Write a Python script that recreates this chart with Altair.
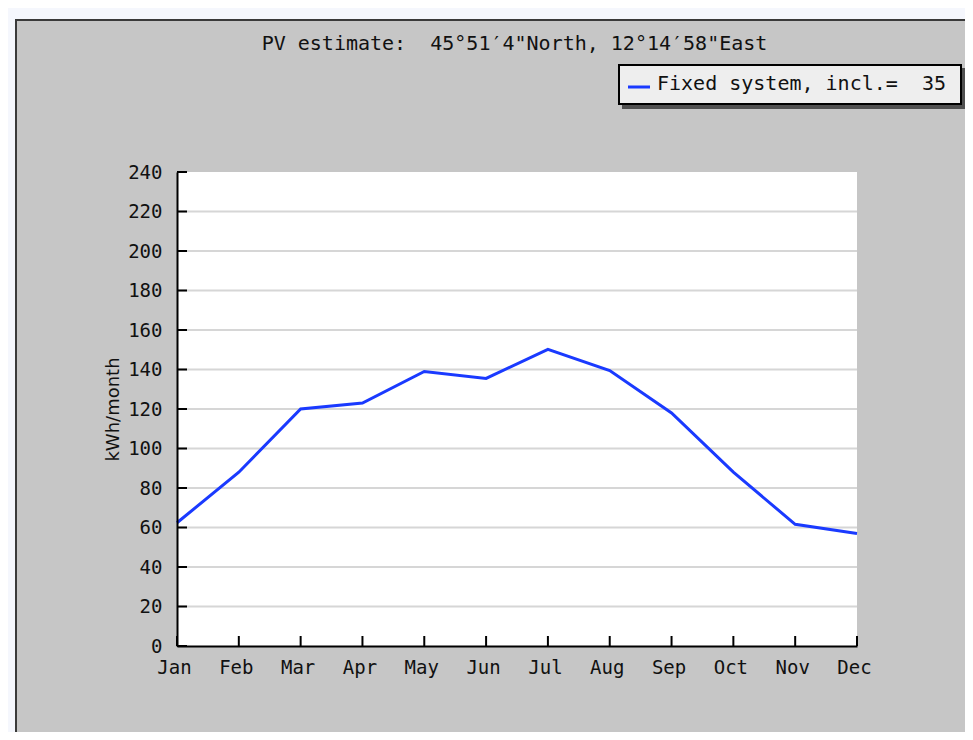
import altair as alt
import pandas as pd

# ---- data ----
months = ["Jan", "Feb", "Mar", "Apr", "May", "Jun", "Jul", "Aug", "Sep", "Oct", "Nov", "Dec"]
kwh = [62.4, 88.0, 120.0, 123.0, 139.0, 135.5, 150.2, 139.5, 118.0, 88.0, 61.6, 57.0]
y_ticks = [0, 20, 40, 60, 80, 100, 120, 140, 160, 180, 200, 220, 240]
grid_values = [20, 40, 60, 80, 100, 120, 140, 160, 180, 200, 220]
title_text = ["PV estimate:\u00a0\u00a045°51′4\"North, 12°14′58\"East"]
legend_label = ["Fixed system, incl.=\u00a0\u00a035"]
y_title = "kWh/month"

# ---- styling ----
W, H = 680, 474
MONO = "DejaVu Sans Mono"
BLUE = "#1a3aff"
TXT = "#111111"

df = pd.DataFrame({"month": months, "kwh": kwh})
one = pd.DataFrame({"k": [0]})

x_scale = alt.Scale(type="point", domain=months, padding=0)
y_scale = alt.Scale(domain=[0, 240], nice=False, zero=True)

x_axis = alt.Axis(title=None, grid=False, ticks=False, domain=True, domainColor="black",
                  domainWidth=2, labelFont=MONO, labelFontSize=19, labelColor=TXT,
                  labelPadding=12, labelAngle=0, labelOffset=-3, zindex=1)
y_axis = alt.Axis(title=y_title, values=y_ticks, grid=False, ticks=False, domain=True,
                  domainColor="black", domainWidth=2, labelFont=MONO, labelFontSize=19,
                  labelColor=TXT, labelPadding=15, titleFont="DejaVu Sans", titleFontSize=18,
                  titleFontWeight="normal", titleColor=TXT, titleX=-64, titleY=237,
                  titleAngle=270, titleBaseline="middle", titleAlign="center", zindex=1)

panel = alt.Chart(one).mark_rect(fill="#c6c6c6", stroke="#3a3a3a", strokeWidth=2).encode(
    x=alt.value(-161), x2=alt.value(830), y=alt.value(-152), y2=alt.value(580))

shadow = alt.Chart(one).mark_rect(fill="#505050").encode(
    x=alt.value(445), x2=alt.value(789), y=alt.value(-104), y2=alt.value(-63))
box = alt.Chart(one).mark_rect(fill="#eeeeee", stroke="black", strokeWidth=2).encode(
    x=alt.value(442), x2=alt.value(784), y=alt.value(-107), y2=alt.value(-68))
leg_line = alt.Chart(one).mark_rule(color=BLUE, strokeWidth=3).encode(
    x=alt.value(451), x2=alt.value(473), y=alt.value(-85))
leg_text = alt.Chart(pd.DataFrame({"t": legend_label})).mark_text(
    align="left", baseline="middle", font=MONO, fontSize=20, color=TXT).encode(
    x=alt.value(480), y=alt.value(-88), text="t:N")

title = alt.Chart(pd.DataFrame({"t": title_text})).mark_text(
    align="center", baseline="middle", font=MONO, fontSize=20, color=TXT).encode(
    x=alt.value(337.5), y=alt.value(-128), text="t:N")

plot_bg = alt.Chart(one).mark_rect(fill="white").encode(
    x=alt.value(0), x2=alt.value(W), y=alt.value(0), y2=alt.value(H))

grid = alt.Chart(pd.DataFrame({"kwh": grid_values})).mark_rule(color="#d6d6d6", strokeWidth=2).encode(
    y=alt.Y("kwh:Q", scale=y_scale, axis=y_axis), x=alt.value(0), x2=alt.value(W))

line = alt.Chart(df).mark_line(color=BLUE, strokeWidth=3).encode(
    x=alt.X("month:N", scale=x_scale, axis=x_axis),
    y=alt.Y("kwh:Q", scale=y_scale, axis=y_axis))

yticks = alt.Chart(pd.DataFrame({"kwh": y_ticks})).mark_rule(color="black", strokeWidth=2).encode(
    y=alt.Y("kwh:Q", scale=y_scale, axis=y_axis), x=alt.value(0), x2=alt.value(10))

xticks = alt.Chart(pd.DataFrame({"month": months})).mark_rule(color="black", strokeWidth=2).encode(
    x=alt.X("month:N", scale=x_scale, axis=x_axis), y=alt.value(H), y2=alt.value(H - 10))

chart = alt.layer(
    panel, shadow, box, leg_line, leg_text, title, plot_bg, grid, line, yticks, xticks
).properties(
    width=W, height=H,
    autosize=alt.AutoSizeParams(type="none"),
    padding={"left": 169, "top": 164, "right": 108, "bottom": 86},
    background="#f5f7fd",
).configure_view(strokeWidth=0)

chart.save("out.html", embed_options={"renderer": "svg", "actions": False})
